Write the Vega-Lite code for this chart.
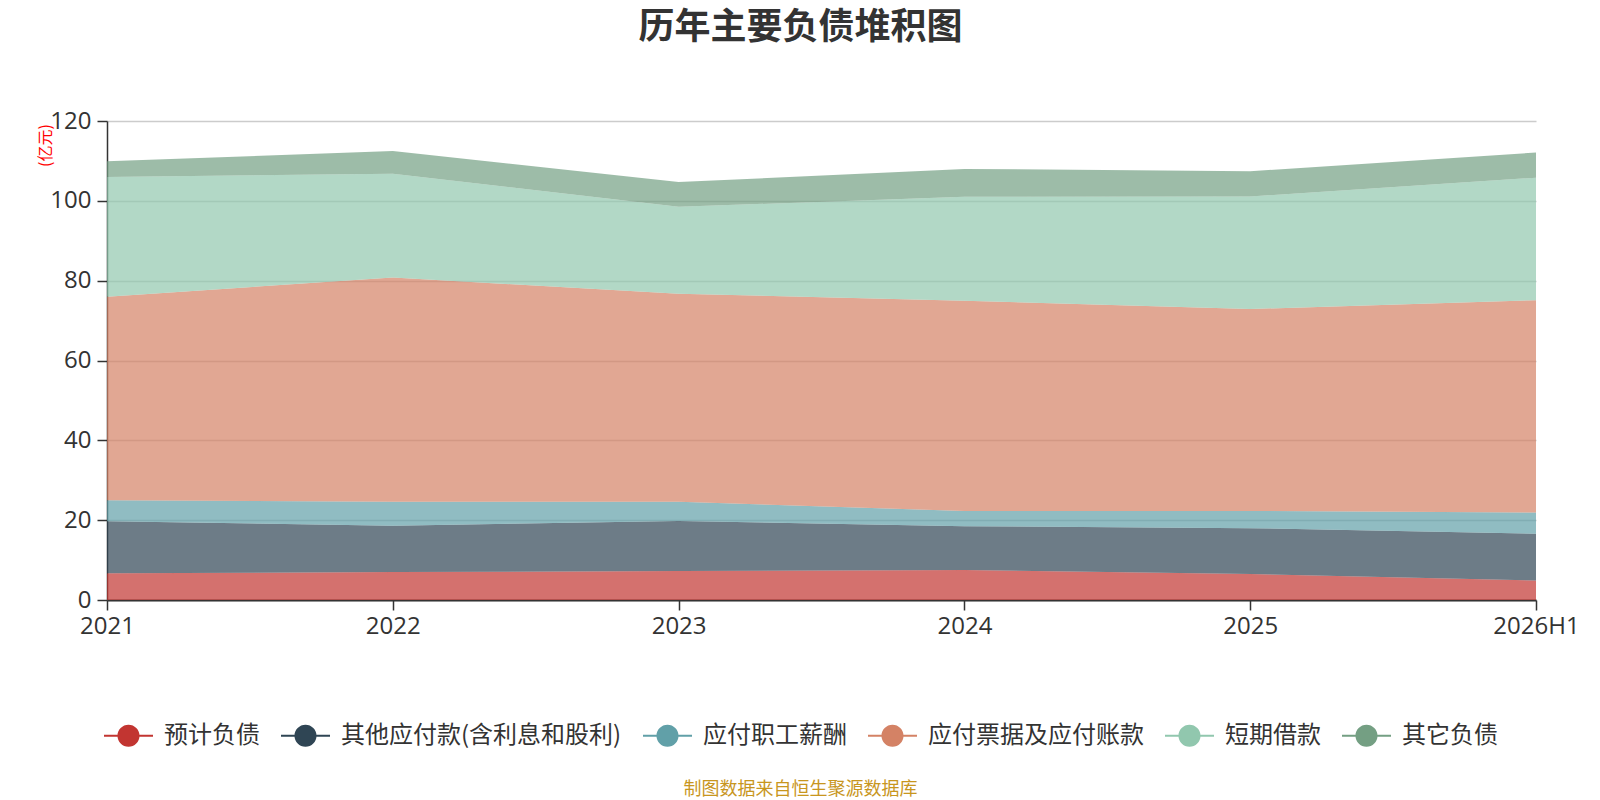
{
  "$schema": "https://vega.github.io/schema/vega-lite/v6.json",
  "width": 1429,
  "height": 479,
  "autosize": "none",
  "padding": {"left": 107, "top": 121, "right": 64, "bottom": 200},
  "background": "white",
  "title": {
    "text": "历年主要负债堆积图",
    "font": "Noto Sans CJK SC",
    "fontSize": 36,
    "fontWeight": "bold",
    "color": "#333333",
    "anchor": "middle",
    "dx": -21,
    "offset": 62
  },
  "datasets": {
    "stackOrder": [
      {"item": "预计负债", "rank": 1},
      {"item": "其他应付款(含利息和股利)", "rank": 2},
      {"item": "应付职工薪酬", "rank": 3},
      {"item": "应付票据及应付账款", "rank": 4},
      {"item": "短期借款", "rank": 5},
      {"item": "其它负债", "rank": 6}
    ]
  },
  "data": {
    "values": [
      {"year": "2021", "item": "预计负债", "value": 6.7},
      {"year": "2021", "item": "其他应付款(含利息和股利)", "value": 13.05},
      {"year": "2021", "item": "应付职工薪酬", "value": 5.25},
      {"year": "2021", "item": "应付票据及应付账款", "value": 51.0},
      {"year": "2021", "item": "短期借款", "value": 30.0},
      {"year": "2021", "item": "其它负债", "value": 3.9},
      {"year": "2022", "item": "预计负债", "value": 7.0},
      {"year": "2022", "item": "其他应付款(含利息和股利)", "value": 11.6},
      {"year": "2022", "item": "应付职工薪酬", "value": 6.0},
      {"year": "2022", "item": "应付票据及应付账款", "value": 56.2},
      {"year": "2022", "item": "短期借款", "value": 26.0},
      {"year": "2022", "item": "其它负债", "value": 5.7},
      {"year": "2023", "item": "预计负债", "value": 7.25},
      {"year": "2023", "item": "其他应付款(含利息和股利)", "value": 12.55},
      {"year": "2023", "item": "应付职工薪酬", "value": 4.8},
      {"year": "2023", "item": "应付票据及应付账款", "value": 52.1},
      {"year": "2023", "item": "短期借款", "value": 21.8},
      {"year": "2023", "item": "其它负债", "value": 6.2},
      {"year": "2024", "item": "预计负债", "value": 7.5},
      {"year": "2024", "item": "其他应付款(含利息和股利)", "value": 11.0},
      {"year": "2024", "item": "应付职工薪酬", "value": 3.8},
      {"year": "2024", "item": "应付票据及应付账款", "value": 52.7},
      {"year": "2024", "item": "短期借款", "value": 26.0},
      {"year": "2024", "item": "其它负债", "value": 7.0},
      {"year": "2025", "item": "预计负债", "value": 6.5},
      {"year": "2025", "item": "其他应付款(含利息和股利)", "value": 11.5},
      {"year": "2025", "item": "应付职工薪酬", "value": 4.3},
      {"year": "2025", "item": "应付票据及应付账款", "value": 50.6},
      {"year": "2025", "item": "短期借款", "value": 28.2},
      {"year": "2025", "item": "其它负债", "value": 6.3},
      {"year": "2026H1", "item": "预计负债", "value": 4.9},
      {"year": "2026H1", "item": "其他应付款(含利息和股利)", "value": 11.7},
      {"year": "2026H1", "item": "应付职工薪酬", "value": 5.3},
      {"year": "2026H1", "item": "应付票据及应付账款", "value": 53.2},
      {"year": "2026H1", "item": "短期借款", "value": 30.7},
      {"year": "2026H1", "item": "其它负债", "value": 6.3}
    ]
  },
  "transform": [
    {
      "lookup": "item",
      "from": {"data": {"name": "stackOrder"}, "key": "item", "fields": ["rank"]}
    }
  ],
  "mark": {"type": "area", "opacity": 0.7},
  "encoding": {
    "x": {
      "field": "year",
      "type": "ordinal",
      "sort": null,
      "scale": {"padding": 0},
      "axis": {
        "labelAngle": 0,
        "labelFont": "Open Sans",
        "labelFontSize": 24,
        "labelColor": "#333333",
        "labelPadding": 4,
        "tickSize": 10,
        "tickColor": "#333333",
        "tickWidth": 1.5,
        "domainColor": "#333333",
        "domainWidth": 2,
        "grid": false,
        "title": "制图数据来自恒生聚源数据库",
        "titleFont": "Noto Sans CJK SC",
        "titleFontSize": 18,
        "titleFontWeight": "normal",
        "titleColor": "#c8961e",
        "titleX": 693,
        "titleY": 189,
        "titleAlign": "center",
        "titleBaseline": "middle"
      }
    },
    "y": {
      "field": "value",
      "type": "quantitative",
      "stack": "zero",
      "scale": {"domain": [0, 120], "nice": false},
      "axis": {
        "values": [0, 20, 40, 60, 80, 100, 120],
        "labelFont": "Open Sans",
        "labelFontSize": 24,
        "labelColor": "#333333",
        "labelPadding": 6,
        "tickSize": 10,
        "tickColor": "#333333",
        "tickWidth": 1.5,
        "domainColor": "#333333",
        "domainWidth": 1.5,
        "grid": true,
        "gridColor": "#cccccc",
        "gridWidth": 1.5,
        "title": "(亿元)",
        "titleFont": "Noto Sans CJK SC",
        "titleFontSize": 16,
        "titleFontWeight": "normal",
        "titleColor": "#ff0000",
        "titleAngle": -90,
        "titleX": -62,
        "titleY": 24,
        "titleAlign": "center",
        "titleBaseline": "middle"
      }
    },
    "order": {"field": "rank", "type": "quantitative", "sort": "ascending"},
    "color": {
      "field": "item",
      "type": "nominal",
      "sort": ["预计负债", "其他应付款(含利息和股利)", "应付职工薪酬", "应付票据及应付账款", "短期借款", "其它负债"],
      "scale": {
        "domain": ["预计负债", "其他应付款(含利息和股利)", "应付职工薪酬", "应付票据及应付账款", "短期借款", "其它负债"],
        "range": ["#c23531", "#2f4554", "#61a0a8", "#d48265", "#91c7ae", "#749f83"]
      },
      "legend": {
        "orient": "none",
        "legendX": -3,
        "legendY": 590,
        "direction": "horizontal",
        "title": null,
        "symbolType": "M-1,-0.04H-0.44V0.04H-1Z M0.44,-0.04H1V0.04H0.44Z M0.45,0A0.45,0.45 0 1,1 -0.45,0A0.45,0.45 0 1,1 0.45,0Z",
        "symbolSize": 2401,
        "symbolStrokeWidth": 0,
        "symbolOpacity": 1,
        "labelFont": "Noto Sans CJK SC",
        "labelFontSize": 24,
        "labelColor": "#333333",
        "labelOffset": 11,
        "labelLimit": 0,
        "columnPadding": 21,
        "padding": 0
      }
    }
  },
  "config": {"view": {"stroke": null}}
}
